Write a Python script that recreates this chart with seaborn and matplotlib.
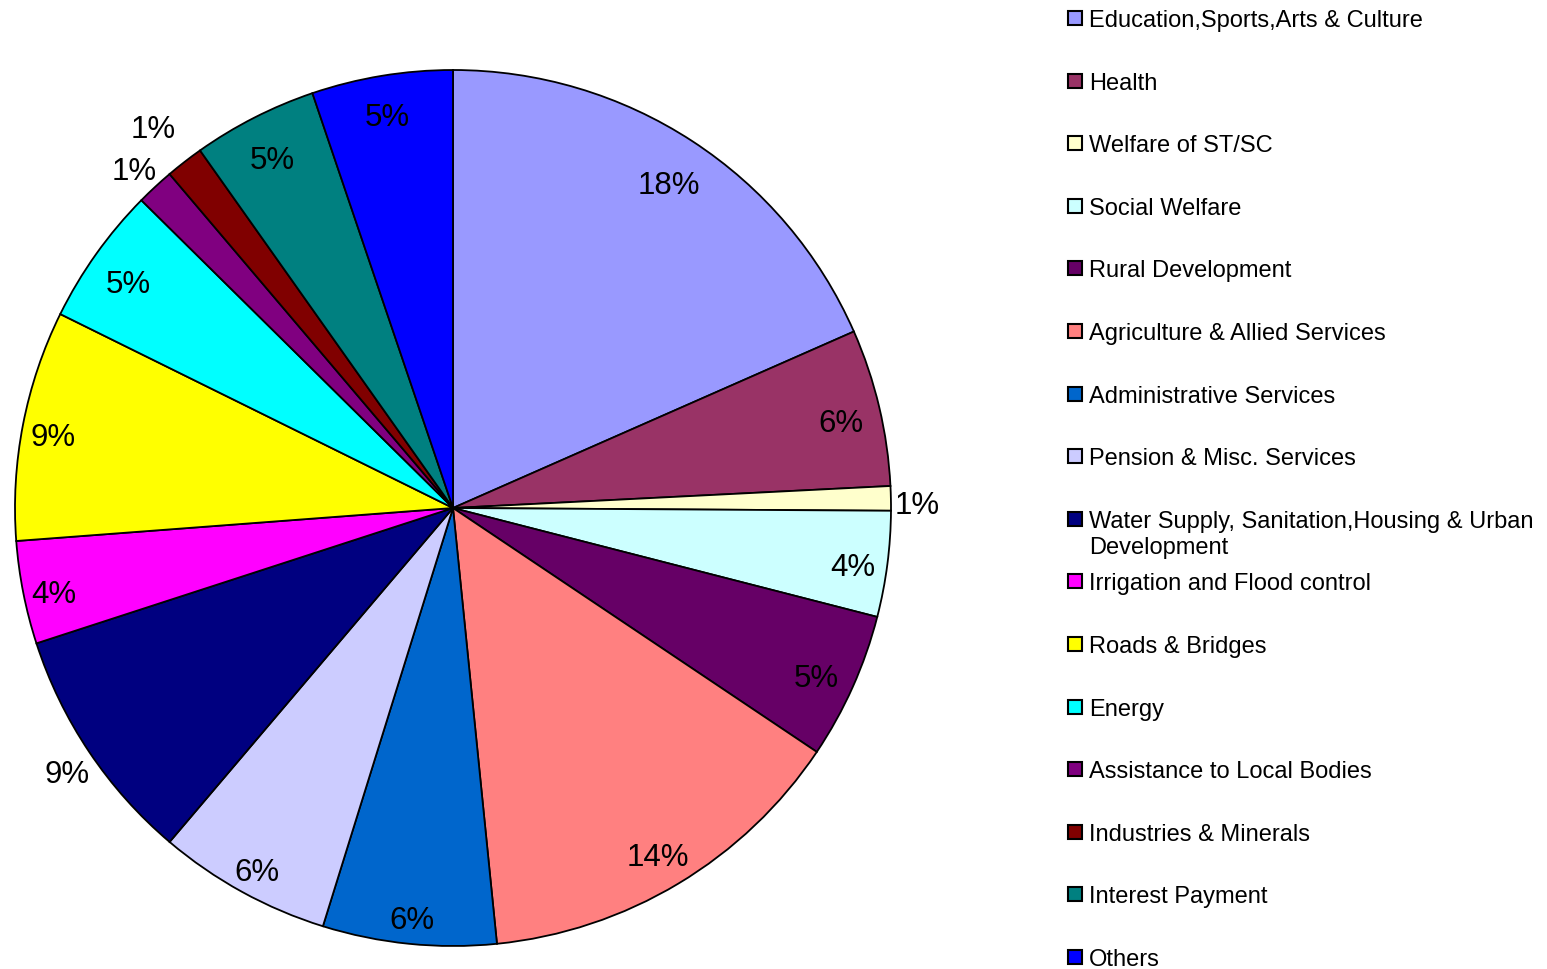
import numpy as np
import pandas as pd
import matplotlib
matplotlib.use("Agg")
import matplotlib.pyplot as plt
import matplotlib.patches as mpatches
import seaborn as sns

#%% Datos
sectores = ["Education,Sports,Arts & Culture", "Health", "Welfare of ST/SC",
            "Social Welfare", "Rural Development", "Agriculture & Allied Services",
            "Administrative Services", "Pension & Misc. Services",
            "Water Supply, Sanitation,Housing & Urban\nDevelopment",
            "Irrigation and Flood control", "Roads & Bridges", "Energy",
            "Assistance to Local Bodies", "Industries & Minerals",
            "Interest Payment", "Others"]
porcentajes = [18.4, 5.8, 0.9, 3.9, 5.4, 14.0, 6.4, 6.4,
               8.8, 3.8, 8.5, 5.1, 1.4, 1.4, 4.6, 5.2]
colores = ["#9999FF", "#993366", "#FFFFCC", "#CCFFFF", "#660066", "#FF8080",
           "#0066CC", "#CCCCFF", "#000080", "#FF00FF", "#FFFF00", "#00FFFF",
           "#800080", "#800000", "#008080", "#0000FF"]
etiquetas = ["18%", "6%", "1%", "4%", "5%", "14%", "6%", "6%",
             "9%", "4%", "9%", "5%", "1%", "1%", "5%", "5%"]
# distancia de cada etiqueta al centro (en radios)
dist_etiq = [0.90, 0.91, 1.06, 0.92, 0.91, 0.91, 0.93, 0.93,
             1.06, 0.93, 0.93, 0.91, 1.07, 1.115, 0.91, 0.92]

datos = pd.DataFrame({"sector": sectores, "pct": porcentajes, "color": colores})

#%% Grafico de torta
sns.set_theme(style = "white")
plt.rcParams["font.family"] = ["Liberation Sans", "DejaVu Sans"]
plt.rcParams["text.color"] = "black"

W, H = 1547, 970
fig = plt.figure(figsize = (W / 100, H / 100), dpi = 100)
cx, cy, r = 453, 509, 438
ax = fig.add_axes([(cx - r) / W, (H - cy - r) / H, 2 * r / W, 2 * r / H])

wedges, _ = ax.pie(datos["pct"], colors = datos["color"], startangle = 90,
                   counterclock = False,
                   wedgeprops = {"edgecolor": "black", "linewidth": 1.3})
ax.set_xlim(-1, 1)
ax.set_ylim(-1, 1)
ax.set_aspect("equal")

for w, txt, d in zip(wedges, etiquetas, dist_etiq):
    ang = np.deg2rad((w.theta1 + w.theta2) / 2)
    ax.text(d * np.cos(ang), d * np.sin(ang) - 0.008, txt, fontsize = 22.5,
            ha = "center", va = "center_baseline", color = "black")

#%% Leyenda
paso = 62.6
for i, (nombre, col) in enumerate(zip(sectores, colores)):
    yc = 19 + paso * i
    fig.patches.append(mpatches.Rectangle((1068 / W, 1 - (yc + 7) / H),
                                          14 / W, 14 / H,
                                          transform = fig.transFigure,
                                          facecolor = col, edgecolor = "black",
                                          linewidth = 1.5))
    fig.text(1089 / W, 1 - (yc - 9) / H, nombre, fontsize = 17,
             ha = "left", va = "top", linespacing = 1.22, color = "black")

fig.savefig("out.png", dpi = 100)
